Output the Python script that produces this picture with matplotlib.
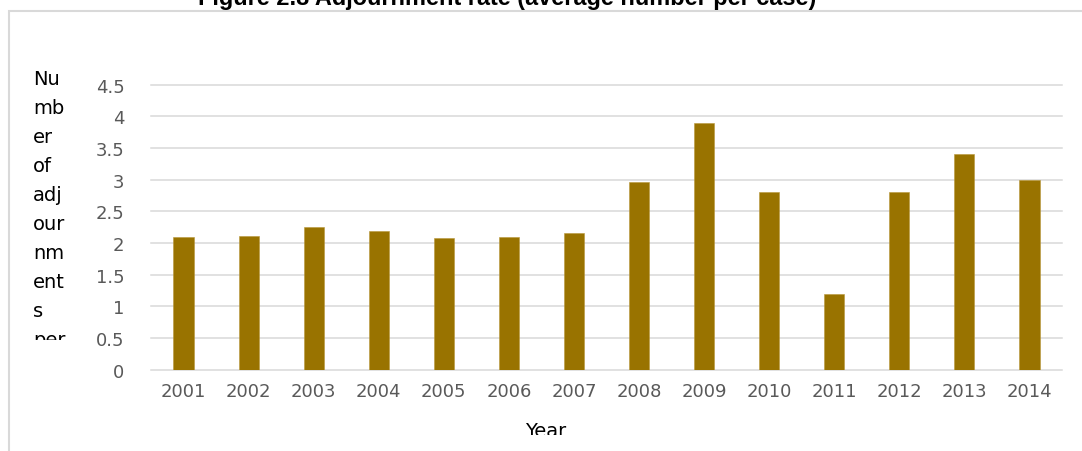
import matplotlib
matplotlib.use("Agg")
import matplotlib.pyplot as plt
from matplotlib.patches import Rectangle

# Adjournment rate data
years = ["2001", "2002", "2003", "2004", "2005", "2006", "2007",
         "2008", "2009", "2010", "2011", "2012", "2013", "2014"]
adjournments = [2.10, 2.11, 2.25, 2.19, 2.08, 2.10, 2.16,
                2.97, 3.90, 2.80, 1.20, 2.80, 3.40, 3.00]
y_ticks = [0, 0.5, 1, 1.5, 2, 2.5, 3, 3.5, 4, 4.5]
y_tick_labels = ["0", "0.5", "1", "1.5", "2", "2.5", "3", "3.5", "4", "4.5"]
ylabel_lines = ["Nu", "mb", "er", "of", "adj", "our", "nm", "ent", "s", "per"]
title = "Figure 2.8 Adjournment rate (average number per case)"

W, H = 1082, 452
fig = plt.figure(figsize=(W / 100, H / 100), dpi=100)
fig.patch.set_facecolor("white")

def fx(px):
    return px / W

def fy(py):
    # py measured from the top edge
    return 1 - py / H

# chart-area frame
frame = Rectangle((fx(8.5), fy(470)), fx(1200), fy(11.5) - fy(470),
                  transform=fig.transFigure, fill=False,
                  edgecolor="#d9d9d9", linewidth=1.5, zorder=0)
fig.patches.append(frame)

ax = fig.add_axes([fx(151), fy(370.7), fx(1062) - fx(151), fy(85.6) - fy(370.7)])
x = list(range(len(years)))
ax.bar(x, adjournments, width=0.31, color="#997300",
       edgecolor="#b8963a", linewidth=0.4, zorder=3)

ax.set_xlim(-0.5, len(years) - 0.5)
ax.set_ylim(0, 4.5)
ax.set_yticks(y_ticks)
ax.set_yticklabels(y_tick_labels)
ax.set_xticks(x)
ax.set_xticklabels(years)
for s in ax.spines.values():
    s.set_visible(False)
ax.tick_params(axis="both", length=0, colors="#595959", labelsize=13)
ax.tick_params(axis="y", pad=19)
ax.tick_params(axis="x", pad=9)
for lbl in ax.get_xticklabels() + ax.get_yticklabels():
    lbl.set_fontfamily("DejaVu Sans")
ax.grid(axis="y", color="#d9d9d9", linewidth=1.1, zorder=0)
for gl in ax.get_ygridlines():
    gl.set_clip_on(False)
ax.set_axisbelow(True)

# wrapped y-axis title, last line cut off at the bottom
clip_rect = Rectangle((0, fy(341)), fx(150), fy(0) - fy(341),
                      transform=fig.transFigure, visible=False)
fig.patches.append(clip_rect)
for i, line in enumerate(ylabel_lines):
    t = fig.text(fx(33), fy(85 + 29 * i), line, fontsize=14,
                 family="DejaVu Sans", color="black",
                 ha="left", va="baseline")
    t.set_clip_path(clip_rect)

# x-axis title, clipped at the bottom
year_clip = Rectangle((0, fy(436)), 1, fy(0) - fy(436),
                      transform=fig.transFigure, visible=False)
fig.patches.append(year_clip)
yt = fig.text(fx(546), fy(437), "Year", fontsize=14, family="DejaVu Sans",
              color="black", ha="center", va="baseline")
yt.set_clip_path(year_clip)

# chart title, partly above the top edge
tt = fig.text(fx(507), fy(5), title, fontsize=13, fontweight="bold",
              family="Liberation Sans", color="black",
              ha="center", va="baseline")
fig.canvas.draw()
bb = tt.get_window_extent()
tt.set_fontsize(13 * 615 / bb.width)

fig.savefig("out.png", dpi=100, facecolor="white")
